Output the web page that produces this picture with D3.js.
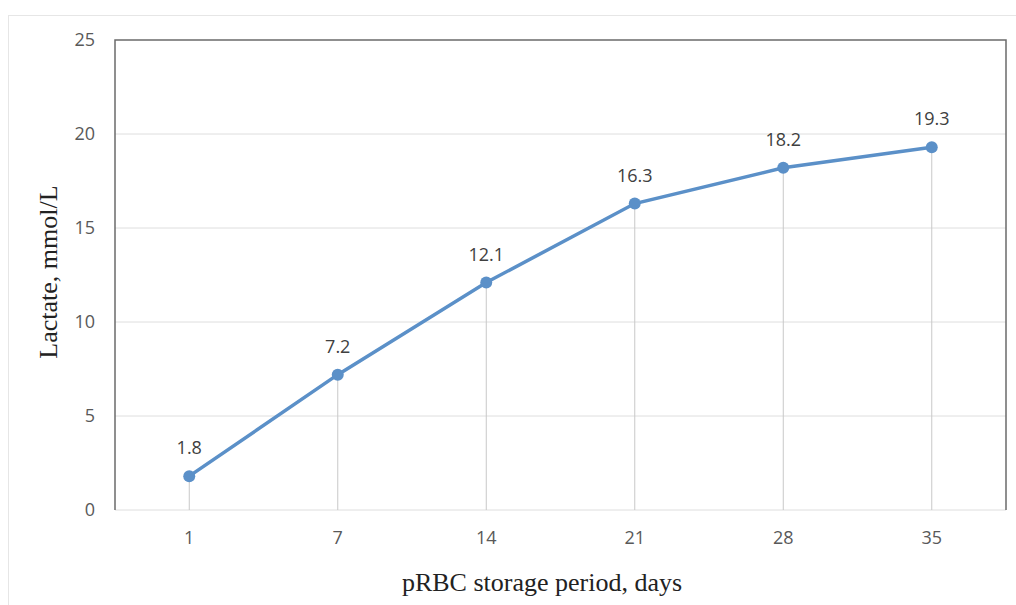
<!DOCTYPE html>
<html lang="en">
<head>
  <meta charset="UTF-8">
  <title>Lactate during pRBC storage</title>
  <script src="https://d3js.org/d3.v7.min.js"></script>
  <style>
    body { margin: 0; background: #fff; }
  </style>
</head>
<body>
  <div class="canvas"></div>
  <script>
    const days = ['1', '7', '14', '21', '28', '35'];
    const lactate = [1.8, 7.2, 12.1, 16.3, 18.2, 19.3];
    const yTicks = [0, 5, 10, 15, 20, 25];

    const W = 1016, H = 605;
    const margin = { top: 40, right: 10, bottom: 95, left: 115 };
    const iw = W - margin.left - margin.right;
    const ih = H - margin.top - margin.bottom;

    const svg = d3.select('.canvas')
      .append('svg')
      .attr('width', W)
      .attr('height', H);

    // outer frame
    svg.append('rect')
      .attr('x', 8.5).attr('y', 15.5)
      .attr('width', W).attr('height', H)
      .attr('fill', 'none')
      .attr('stroke', '#e6e6e6');

    const g = svg.append('g')
      .attr('transform', `translate(${margin.left}, ${margin.top})`);

    const x = d3.scaleBand().domain(days).range([0, iw]);
    const y = d3.scaleLinear().domain([0, 25]).range([ih, 0]);

    // gridlines
    g.selectAll('.grid')
      .data(yTicks.slice(0, -1))
      .enter().append('line')
      .attr('x1', 0).attr('x2', iw)
      .attr('y1', d => y(d)).attr('y2', d => y(d))
      .attr('stroke', '#dedede');

    // drop lines
    g.selectAll('.drop')
      .data(lactate)
      .enter().append('line')
      .attr('x1', (d, i) => x(days[i]) + x.bandwidth() / 2)
      .attr('x2', (d, i) => x(days[i]) + x.bandwidth() / 2)
      .attr('y1', d => y(d)).attr('y2', ih)
      .attr('stroke', '#c8c8c8');

    // plot box (left, top, right)
    g.append('path')
      .attr('d', `M0,${ih}V0H${iw}V${ih}`)
      .attr('fill', 'none')
      .attr('stroke', '#6b6b6b')
      .attr('stroke-width', 1.5);

    // y tick labels
    g.selectAll('.ytick')
      .data(yTicks)
      .enter().append('text')
      .attr('x', -20)
      .attr('y', d => y(d))
      .attr('dy', '0.35em')
      .attr('text-anchor', 'end')
      .attr('fill', '#595959')
      .style('font', '18px "Open Sans", sans-serif')
      .text(d => d);

    // x tick labels
    g.selectAll('.xtick')
      .data(days)
      .enter().append('text')
      .attr('x', d => x(d) + x.bandwidth() / 2)
      .attr('y', ih + 34)
      .attr('text-anchor', 'middle')
      .attr('fill', '#595959')
      .style('font', '18px "Open Sans", sans-serif')
      .text(d => d);

    const line = d3.line()
      .x((d, i) => x(days[i]) + x.bandwidth() / 2)
      .y(d => y(d));

    g.append('path')
      .datum(lactate)
      .attr('d', line)
      .attr('fill', 'none')
      .attr('stroke', '#5b90c8')
      .attr('stroke-width', 3.5);

    g.selectAll('.pt')
      .data(lactate)
      .enter().append('circle')
      .attr('cx', (d, i) => x(days[i]) + x.bandwidth() / 2)
      .attr('cy', d => y(d))
      .attr('r', 6)
      .attr('fill', '#5b90c8');

    // data labels
    g.selectAll('.lbl')
      .data(lactate)
      .enter().append('text')
      .attr('x', (d, i) => x(days[i]) + x.bandwidth() / 2)
      .attr('y', d => y(d) - 22)
      .attr('text-anchor', 'middle')
      .attr('fill', '#404040')
      .style('font', '18px "Open Sans", sans-serif')
      .text(d => d.toFixed(1));

    // axis titles
    svg.append('text')
      .attr('transform', 'translate(57, 272) rotate(-90)')
      .attr('text-anchor', 'middle')
      .attr('fill', '#222')
      .style('font', '26px "Liberation Serif", "Times New Roman", serif')
      .text('Lactate, mmol/L');

    svg.append('text')
      .attr('x', 542)
      .attr('y', 591)
      .attr('text-anchor', 'middle')
      .attr('fill', '#222')
      .style('font', '26px "Liberation Serif", "Times New Roman", serif')
      .text('pRBC storage period, days');
  </script>
</body>
</html>
